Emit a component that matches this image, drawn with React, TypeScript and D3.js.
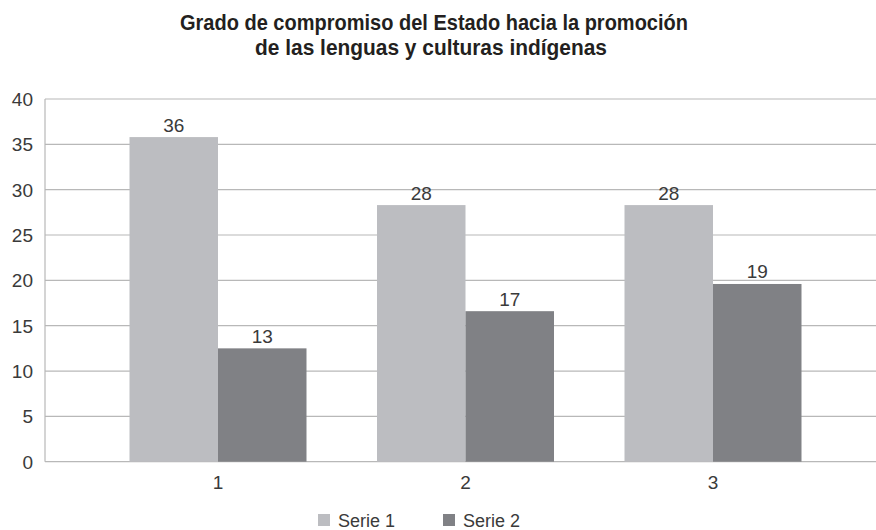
import React from "react";
import * as d3 from "d3";

const categories = ["1", "2", "3"];
const seriesNames = ["Serie 1", "Serie 2"];
const serie1 = [35.8, 28.3, 28.3];
const serie2 = [12.5, 16.6, 19.6];
const serie1Labels = ["36", "28", "28"];
const serie2Labels = ["13", "17", "19"];
const yTicks = [0, 5, 10, 15, 20, 25, 30, 35, 40];
const titleLines = [
  "Grado de compromiso del Estado hacia la promoción",
  "de las lenguas y culturas indígenas",
];

const W = 876;
const H = 530;
const colors = ["#bcbdc1", "#808185"];
const numFont = "'Liberation Sans', Arial, sans-serif";
const titleWidths = [508, 352];

export default function App() {
  const plotLeft = 45;
  const plotRight = 876;
  const y = d3.scaleLinear().domain([0, 40]).range([461.7, 99]);
  const x = d3.scaleBand().domain(categories).range([94.25, 836.75]).paddingInner(0).paddingOuter(0);
  const barW = 88.5;
  const series = [serie1, serie2];
  const labels = [serie1Labels, serie2Labels];

  return (
    <svg width={W} height={H} style={{ position: "absolute", left: 0, top: 0, background: "#fff" }}>
      <rect x={0} y={0} width={W} height={H} fill="#fff" />
      <g fontFamily="'Liberation Sans', Arial, sans-serif" fontWeight="bold" fontSize={22.5} fill="#231f20" textAnchor="middle">
        {titleLines.map((t, i) => (
          <text key={i} x={i === 0 ? 434 : 431} y={30 + i * 24.5} textLength={titleWidths[i]} lengthAdjust="spacingAndGlyphs">{t}</text>
        ))}
      </g>
      <g>
        {yTicks.map((t) => (
          <g key={t}>
            <line x1={plotLeft} x2={plotRight} y1={y(t)} y2={y(t)} stroke="#b8b8b8" strokeWidth={1.2} />
            <text x={33} y={y(t) + 7} textAnchor="end" fontFamily={numFont} fontSize={19} fill="#3a3a3a">{t}</text>
          </g>
        ))}
        <line x1={plotLeft} x2={plotLeft} y1={y(40)} y2={y(0)} stroke="#b8b8b8" strokeWidth={1.2} />
      </g>
      <g>
        {categories.map((c, i) => {
          const cx = (x(c) as number) + x.bandwidth() / 2;
          return (
            <g key={c}>
              {series.map((s, j) => {
                const bx = cx - barW + j * barW;
                return (
                  <g key={j}>
                    <rect x={bx} y={y(s[i])} width={barW} height={y(0) - y(s[i])} fill={colors[j]} />
                    <text x={bx + barW / 2} y={y(s[i]) - 5.5} textAnchor="middle" fontFamily={numFont} fontSize={19} fill="#3a3a3a">{labels[j][i]}</text>
                  </g>
                );
              })}
              <text x={cx} y={489} textAnchor="middle" fontFamily={numFont} fontSize={19} fill="#3a3a3a">{c}</text>
            </g>
          );
        })}
      </g>
      <g>
        {seriesNames.map((n, j) => {
          const lx = 318 + j * 125;
          return (
            <g key={n}>
              <rect x={lx} y={514} width={12} height={12} fill={colors[j]} />
              <text x={lx + 20} y={527} fontFamily={numFont} fontSize={18} fill="#3a3a3a">{n}</text>
            </g>
          );
        })}
      </g>
    </svg>
  );
}
